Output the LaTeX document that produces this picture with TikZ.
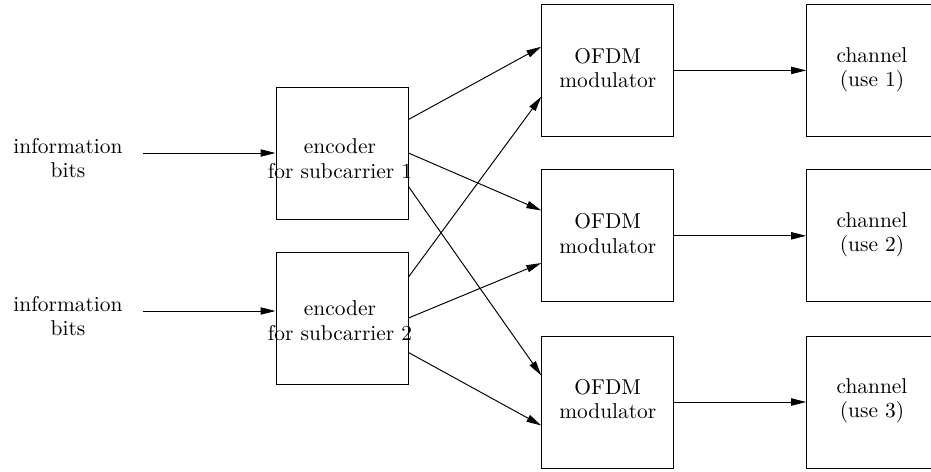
\documentclass[tikz,border=0pt]{standalone}
\usetikzlibrary{arrows.meta, calc}
\tikzset{
	blockbox/.style={draw, line width=0.45pt, minimum size=61.6pt, inner sep=0pt},
	blocktext/.style={align=center, inner sep=0pt, font=\fontsize{10}{11.4}\selectfont},
	flow/.style={-{Triangle[length=7pt,width=3.4pt]}, line width=0.45pt},
}
\begin{document}
\begin{tikzpicture}[x=0.4667pt, y=-0.4667pt]
	\useasboundingbox (0,0) rectangle (931,471);
	% blocks
	\node[blockbox] (enc1) at (342,153) {};
	\node[blockbox] (enc2) at (342,318.5) {};
	\node[blockbox] (mod1) at (607.8,70.4) {};
	\node[blockbox] (mod2) at (607.8,235.8) {};
	\node[blockbox] (mod3) at (607.8,402) {};
	\node[blockbox] (chan1) at (872.7,70.4) {};
	\node[blockbox] (chan2) at (872.7,235.8) {};
	\node[blockbox] (chan3) at (872.7,402) {};
	% texts
	\node[blocktext] (bits1) at (68,157.8) {information\\bits};
	\node[blocktext] (bits2) at (68,315.8) {information\\bits};
	\node[blocktext] (enc1txt) at (340,158.8) {encoder\\for subcarrier 1};
	\node[blocktext] (enc2txt) at (340,320.8) {encoder\\for subcarrier 2};
	\node[blocktext] (mod1txt) at (607.8,67.9) {OFDM\\modulator};
	\node[blocktext] (mod2txt) at (607.8,233.6) {OFDM\\modulator};
	\node[blocktext] (mod3txt) at (607.8,399.2) {OFDM\\modulator};
	\node[blocktext] (chan1txt) at (872,69.5) {channel\\(use 1)};
	\node[blocktext] (chan2txt) at (872,234.5) {channel\\(use 2)};
	\node[blocktext] (chan3txt) at (872,400.5) {channel\\(use 3)};
	% inputs
	\coordinate (in1) at (143,153);
	\coordinate (in2) at (143,311);
	\draw[flow] (in1) -- (enc1.west);
	\draw[flow] (in2) -- ($(enc2.west)+(0,-7.5)$);
	% encoders to modulators
	\draw[flow] ($(enc1.east)+(0,-33.5)$) -- ($(mod1.west)+(0,-23.7)$);
	\draw[flow] (enc1.east) -- ($(mod2.west)+(0,-25.3)$);
	\draw[flow] ($(enc1.east)+(0,33.5)$) -- ($(mod3.west)+(0,-26.5)$);
	\draw[flow] ($(enc2.east)+(0,-41.5)$) -- ($(mod1.west)+(0,26.3)$);
	\draw[flow] ($(enc2.east)+(0,-0.5)$) -- ($(mod2.west)+(0,27.2)$);
	\draw[flow] ($(enc2.east)+(0,34)$) -- ($(mod3.west)+(0,23.5)$);
	% modulators to channel uses
	\foreach \i in {1,2,3}
		\draw[flow] (mod\i.east) -- (chan\i.west);
\end{tikzpicture}
\end{document}
